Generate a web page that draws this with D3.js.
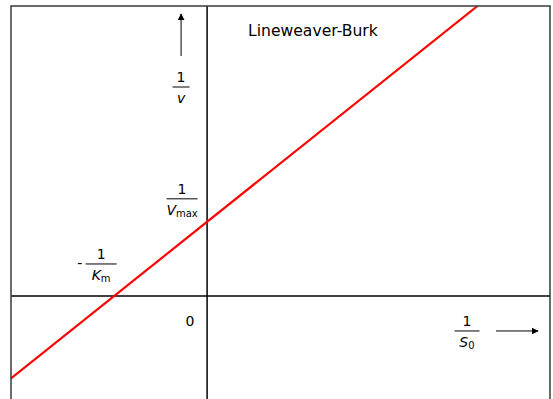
<!DOCTYPE html>
<html>
<head>
<meta charset="utf-8">
<script src="https://cdn.jsdelivr.net/npm/d3@7"></script>
<style>
  html, body { margin: 0; padding: 0; background: #fff; }
  svg { display: block; }
  text { font-family: "DejaVu Sans", sans-serif; fill: #000; }
</style>
</head>
<body>
<svg id="chart" width="553" height="399"></svg>
<script>
// Lineweaver-Burk double reciprocal plot: 1/v = (Km/Vmax)(1/S0) + 1/Vmax
const xDomain = [-2.11, 3.69];          // 1/S0
const yDomain = [-1.47, 3.91];          // 1/v
const lineX = [-2.11, 2.91];            // 1/S0 at the ends of the red line
const lineY = [-1.11, 3.91];            // 1/v at the ends of the red line
const invKm = -1;                       // x-intercept, -1/Km
const invVmax = 1;                      // y-intercept, 1/Vmax
const title = "Lineweaver-Burk";

const svg = d3.select("#chart");
const x = d3.scaleLinear().domain(xDomain).range([11, 550]);
const y = d3.scaleLinear().domain(yDomain).range([405, 6]);

const defs = svg.append("defs");
defs.append("clipPath").attr("id", "plot-clip")
  .append("rect")
  .attr("x", x(xDomain[0])).attr("y", y(yDomain[1]))
  .attr("width", x(xDomain[1]) - x(xDomain[0]))
  .attr("height", y(yDomain[0]) - y(yDomain[1]));

defs.append("marker").attr("id", "arrow")
  .attr("viewBox", "0 0 10 10").attr("refX", 9).attr("refY", 5)
  .attr("markerWidth", 7).attr("markerHeight", 7)
  .attr("markerUnits", "userSpaceOnUse")
  .attr("orient", "auto")
  .append("path").attr("d", "M0,0 L10,5 L0,10 Z").attr("fill", "#000");

// axes through the origin
svg.append("line")
  .attr("x1", x(0)).attr("x2", x(0))
  .attr("y1", y(yDomain[0])).attr("y2", y(yDomain[1]))
  .attr("stroke", "#000").attr("stroke-width", 1.5);
svg.append("line")
  .attr("x1", x(xDomain[0])).attr("x2", x(xDomain[1]))
  .attr("y1", y(0)).attr("y2", y(0))
  .attr("stroke", "#000").attr("stroke-width", 1.5);

// regression line
const pts = lineX.map((d, i) => [d, lineY[i]]);
svg.append("path")
  .datum(pts)
  .attr("clip-path", "url(#plot-clip)")
  .attr("fill", "none").attr("stroke", "#ff0000").attr("stroke-width", 2.2)
  .attr("d", d3.line().x(d => x(d[0])).y(d => y(d[1])));

// frame
svg.append("rect")
  .attr("x", x(xDomain[0])).attr("y", y(yDomain[1]))
  .attr("width", x(xDomain[1]) - x(xDomain[0]))
  .attr("height", y(yDomain[0]) - y(yDomain[1]))
  .attr("fill", "none").attr("stroke", "#3a3a3a").attr("stroke-width", 1.5);

// stacked fraction helper: numerator "1" over a bar, denominator below
function fraction(cx, barY, barW, denom) {
  const g = svg.append("g");
  g.append("text").attr("x", cx).attr("y", barY - 5)
    .attr("text-anchor", "middle").attr("font-size", 14).text("1");
  g.append("line")
    .attr("x1", cx - barW / 2).attr("x2", cx + barW / 2)
    .attr("y1", barY).attr("y2", barY)
    .attr("stroke", "#000").attr("stroke-width", 1);
  const t = g.append("text").attr("x", cx).attr("y", barY + 16)
    .attr("text-anchor", "middle").attr("font-size", 14);
  t.append("tspan").attr("font-style", "italic").text(denom[0]);
  if (denom[1]) {
    t.append("tspan").attr("font-size", 10).attr("dy", 2).text(denom[1]);
  }
  return g;
}

// 1/v label with upward arrow
fraction(x(0) - 26, 87, 17, ["v"]);
svg.append("line")
  .attr("x1", x(0) - 26).attr("x2", x(0) - 26)
  .attr("y1", 56).attr("y2", 14)
  .attr("stroke", "#000").attr("stroke-width", 1)
  .attr("marker-end", "url(#arrow)");

// 1/Vmax at the y-intercept
fraction(x(0) - 25, y(invVmax) - 23, 31, ["V", "max"]);

// -1/Km at the x-intercept
svg.append("text").attr("x", x(invKm) - 37).attr("y", y(0) - 28)
  .attr("font-size", 14).text("-");
fraction(x(invKm) - 13, y(0) - 32, 31, ["K", "m"]);

// origin
svg.append("text").attr("x", x(0) - 17).attr("y", y(0) + 30)
  .attr("text-anchor", "middle").attr("font-size", 14).text("0");

// 1/S0 label with rightward arrow
fraction(467, y(0) + 35, 25, ["S", "0"]);
svg.append("line")
  .attr("x1", 496).attr("x2", 538)
  .attr("y1", y(0) + 35).attr("y2", y(0) + 35)
  .attr("stroke", "#000").attr("stroke-width", 1)
  .attr("marker-end", "url(#arrow)");

// title
svg.append("text").attr("x", 248).attr("y", 36)
  .attr("font-size", 15.6).text(title);
</script>
</body>
</html>
